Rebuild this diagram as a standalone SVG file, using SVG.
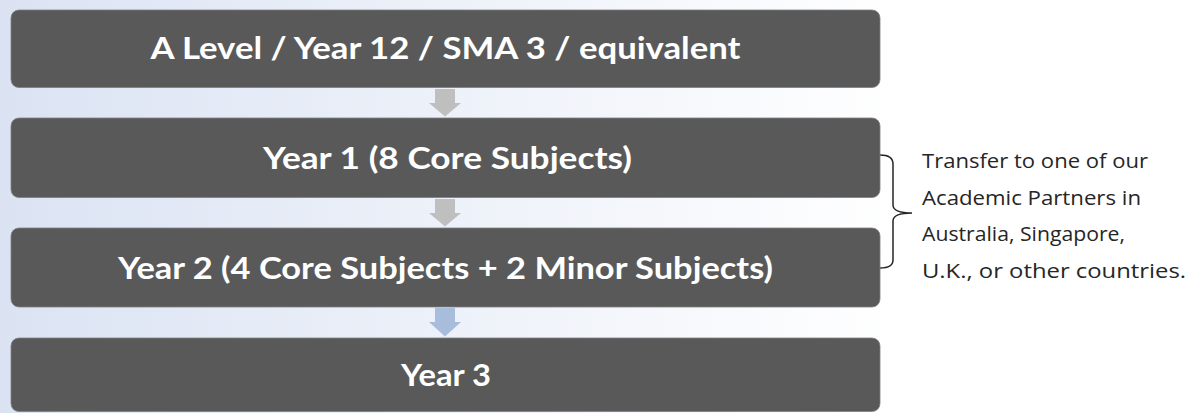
<svg xmlns="http://www.w3.org/2000/svg" width="1196" height="413" viewBox="0 0 1196 413">
  <defs>
    <linearGradient id="bg" x1="0" y1="0" x2="1" y2="0">
      <stop offset="0" stop-color="#dbe3f3"/>
      <stop offset="1" stop-color="#ffffff"/>
    </linearGradient>
    <style>
      .box { fill: #595959; stroke: #7f7f7f; stroke-width: 0.8; }
      .lbl { font-family: Lato, "Open Sans", "Liberation Sans", sans-serif; font-weight: bold; font-size: 31px; fill: #ffffff; text-anchor: middle; }
      .side { font-family: "Open Sans", "Liberation Sans", sans-serif; font-size: 20px; fill: #262626; }
      .arr { fill: #bfbfbf; }
      .arrb { fill: #a8bcdc; }
      .brace { fill: none; stroke: #262626; stroke-width: 1.5; }
    </style>
  </defs>
  <rect x="0" y="0" width="900" height="413" fill="url(#bg)"/>
  <g id="connectors">
    <polygon class="arr" points="435,89 455,89 455,103 461,103 445,116.5 429,103 435,103"/>
    <polygon class="arr" points="435,199 455,199 455,213 461,213 445,226.5 429,213 435,213"/>
    <polygon class="arrb" points="435,308 455,308 455,322 461,322 445,336.5 429,322 435,322"/>
    <path class="brace" d="M880,155 Q893,155 893,164 L893,205 Q893,213 912,213 Q893,213 893,221 L893,260 Q893,268 880,268"/>
  </g>
  <g id="node-alevel">
    <rect class="box" x="11" y="10" width="869" height="77.5" rx="8"/>
    <text class="lbl" x="445.5" y="58.5" textLength="590" lengthAdjust="spacingAndGlyphs">A Level / Year 12 / SMA 3 / equivalent</text>
  </g>
  <g id="node-year1">
    <rect class="box" x="11" y="118" width="869" height="79.5" rx="8"/>
    <text class="lbl" x="447.5" y="168.5" textLength="369" lengthAdjust="spacingAndGlyphs">Year 1 (8 Core Subjects)</text>
  </g>
  <g id="node-year2">
    <rect class="box" x="11" y="228" width="869" height="79" rx="8"/>
    <text class="lbl" x="445.5" y="278.5" textLength="655" lengthAdjust="spacingAndGlyphs">Year 2 (4 Core Subjects + 2 Minor Subjects)</text>
  </g>
  <g id="node-year3">
    <rect class="box" x="11" y="338" width="869" height="73.5" rx="8"/>
    <text class="lbl" x="446" y="385.5" textLength="90" lengthAdjust="spacingAndGlyphs">Year 3</text>
  </g>
  <g id="note-transfer">
    <text class="side" x="922" y="168" textLength="226" lengthAdjust="spacingAndGlyphs">Transfer to one of our</text>
    <text class="side" x="922" y="204.5" textLength="219" lengthAdjust="spacingAndGlyphs">Academic Partners in</text>
    <text class="side" x="922" y="241" textLength="203" lengthAdjust="spacingAndGlyphs">Australia, Singapore,</text>
    <text class="side" x="922" y="277.5" textLength="264" lengthAdjust="spacingAndGlyphs">U.K., or other countries.</text>
  </g>
</svg>
